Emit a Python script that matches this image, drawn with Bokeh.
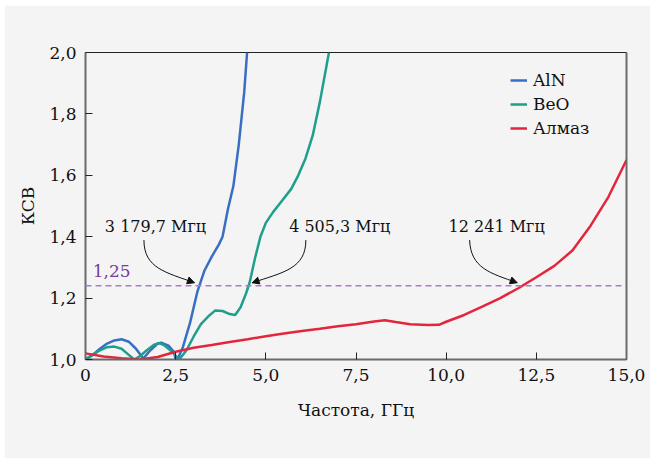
from bokeh.plotting import figure
from bokeh.models import (Range1d, FixedTicker, LinearAxis, Span, Legend, LegendItem,
                          Arrow, NormalHead, Label)
from bokeh.core.properties import value
from bokeh.embed import file_html
from bokeh.resources import INLINE

# ---------------- data ----------------
aln_x = [0, 0.2, 0.4, 0.6, 0.8, 1.0, 1.2, 1.4, 1.6, 1.8, 2.0, 2.1, 2.3, 2.45, 2.5, 2.55,
         2.7, 2.9, 3.1, 3.3, 3.5, 3.7, 3.8, 3.95, 4.1, 4.25, 4.4, 4.48]
aln_y = [1.0, 1.015, 1.035, 1.052, 1.062, 1.066, 1.058, 1.035, 1.003, 1.03, 1.052, 1.055,
         1.045, 1.025, 1.0, 1.0, 1.04, 1.12, 1.22, 1.29, 1.335, 1.375, 1.4, 1.49, 1.565,
         1.70, 1.87, 2.0]

beo_x = [0, 0.2, 0.4, 0.6, 0.8, 1.0, 1.2, 1.35, 1.5, 1.7, 1.9, 2.05, 2.2, 2.4, 2.6, 2.8,
         3.0, 3.2, 3.4, 3.6, 3.8, 4.0, 4.15, 4.3, 4.45, 4.55, 4.7, 4.85, 5.0, 5.2, 5.4,
         5.7, 5.9, 6.1, 6.3, 6.5, 6.75]
beo_y = [1.0, 1.015, 1.03, 1.04, 1.042, 1.035, 1.015, 1.0, 1.01, 1.03, 1.048, 1.053,
         1.045, 1.025, 1.0, 1.03, 1.075, 1.115, 1.14, 1.16, 1.158, 1.148, 1.145, 1.17,
         1.215, 1.25, 1.33, 1.40, 1.445, 1.48, 1.51, 1.555, 1.60, 1.655, 1.73, 1.84, 2.0]

diamond_x = [0, 0.5, 1.0, 1.5, 2.0, 2.5, 3.0, 3.5, 4.0, 4.5, 5.0, 5.5, 6.0, 6.5, 7.0, 7.5,
             8.0, 8.3, 8.6, 9.0, 9.5, 9.8, 10.0, 10.5, 11.0, 11.5, 12.0, 12.5, 13.0, 13.5,
             14.0, 14.5, 15.0]
diamond_y = [1.02, 1.01, 1.004, 1.0, 1.008, 1.025, 1.038, 1.047, 1.057, 1.066, 1.076,
             1.085, 1.093, 1.1, 1.108, 1.115, 1.124, 1.128, 1.122, 1.115, 1.112, 1.113,
             1.123, 1.145, 1.172, 1.2, 1.232, 1.268, 1.305, 1.355, 1.435, 1.53, 1.65]

series_names = ["AlN", "BeO", "Алмаз"]
threshold = 1.24
threshold_label = "1,25"
crossing_labels = ["3 179,7 Мгц", "4 505,3 Мгц", "12 241 Мгц"]

x_ticks = [0, 2.5, 5.0, 7.5, 10.0, 12.5, 15.0]
x_tick_labels = ["0", "2,5", "5,0", "7,5", "10,0", "12,5", "15,0"]
y_ticks = [1.0, 1.2, 1.4, 1.6, 1.8, 2.0]
y_tick_labels = ["1,0", "1,2", "1,4", "1,6", "1,8", "2,0"]

x_title = "Частота, ГГц"
y_title = "КСВ"

# ---------------- style ----------------
FONT = "DejaVu Serif"
BG = "#f4f4f4"
colors = ["#3a6ec3", "#1e9f8c", "#e3263b"]

p = figure(width=646, height=453, output_backend="svg", toolbar_location=None,
           x_range=Range1d(0, 15), y_range=Range1d(1.0, 2.0),
           min_border_left=81, min_border_right=24, min_border_top=47, min_border_bottom=99,
           background_fill_color=BG, border_fill_color=BG, margin=(5, 5, 0, 4))
p.grid.visible = False
p.outline_line_color = "#222222"
p.outline_line_width = 1

for ax in (p.xaxis[0], p.yaxis[0]):
    ax.axis_line_color = "#6a6a6a"
    ax.axis_line_width = 2
    ax.major_tick_in = 7
    ax.major_tick_out = 0
    ax.major_tick_line_color = "#222222"
    ax.minor_tick_line_color = None
    ax.major_label_text_font = FONT
    ax.major_label_text_font_size = "17px"
    ax.major_label_text_color = "#111111"
    ax.axis_label_text_font = FONT
    ax.axis_label_text_font_size = "17px"
    ax.axis_label_text_font_style = "normal"
    ax.axis_label_text_color = "#111111"
    ax.major_label_standoff = 9

p.xaxis[0].ticker = FixedTicker(ticks=x_ticks)
p.xaxis[0].major_label_overrides = dict(zip(x_ticks, x_tick_labels))
p.yaxis[0].ticker = FixedTicker(ticks=y_ticks)
p.yaxis[0].major_label_overrides = dict(zip(y_ticks, y_tick_labels))
p.xaxis[0].axis_label = x_title
p.yaxis[0].axis_label = y_title
p.xaxis[0].axis_label_standoff = 16
p.yaxis[0].axis_label_standoff = 8

right = LinearAxis(axis_line_color="#6a6a6a", axis_line_width=2,
                   major_tick_line_color=None, minor_tick_line_color=None,
                   major_label_text_font_size="0px", ticker=FixedTicker(ticks=[]))
p.add_layout(right, "right")

# threshold line
p.add_layout(Span(location=threshold, dimension="width", line_color="#a57fc4",
                  line_width=1.5, line_dash="6 4"))
p.add_layout(Label(x=0.2, y=threshold + 0.048, text=threshold_label, text_font=FONT,
                   text_font_size="17px", text_color="#7a3d98", text_baseline="middle"))

# series
r1 = p.line(aln_x, aln_y, line_color=colors[0], line_width=2.5)
r2 = p.line(beo_x, beo_y, line_color=colors[1], line_width=2.5)
r3 = p.line(diamond_x, diamond_y, line_color=colors[2], line_width=2.5)

legend = Legend(items=[LegendItem(label=series_names[i], renderers=[r])
                       for i, r in enumerate([r1, r2, r3])],
                location=(425, 221), padding=0, margin=0, spacing=4,
                label_height=20, glyph_height=20, glyph_width=17, label_standoff=6,
                label_text_font=FONT, label_text_font_size="17px",
                label_text_color="#111111",
                border_line_color=None, background_fill_alpha=0)
p.add_layout(legend)

# annotations (text + curved arrows)
p.text(x=[1.94, 7.05, 11.40], y=[1.432, 1.432, 1.432], text=crossing_labels,
       text_font=value(FONT), text_font_size="16px", text_align="center",
       text_baseline="middle", text_color="#111111")

curves = [
    ((1.62, 1.389), (1.62, 1.297), (2.23, 1.284), (3.02, 1.250)),
    ((6.11, 1.389), (6.11, 1.297), (5.50, 1.284), (4.62, 1.250)),
    ((10.65, 1.389), (10.68, 1.297), (11.23, 1.281), (11.97, 1.250)),
]
for p0, c0, c1, p1 in curves:
    p.bezier(x0=[p0[0]], y0=[p0[1]], x1=[p1[0]], y1=[p1[1]],
             cx0=[c0[0]], cy0=[c0[1]], cx1=[c1[0]], cy1=[c1[1]],
             line_color="#111111", line_width=1)
    sx = p1[0] - 0.05 * (p1[0] - c1[0])
    sy = p1[1] - 0.05 * (p1[1] - c1[1])
    p.add_layout(Arrow(end=NormalHead(size=7, fill_color="#111111", line_color="#111111",
                                      line_width=1),
                       x_start=sx, y_start=sy, x_end=p1[0], y_end=p1[1],
                       line_color="#111111", line_width=1))

open("out.html", "w").write(file_html(p, INLINE))
